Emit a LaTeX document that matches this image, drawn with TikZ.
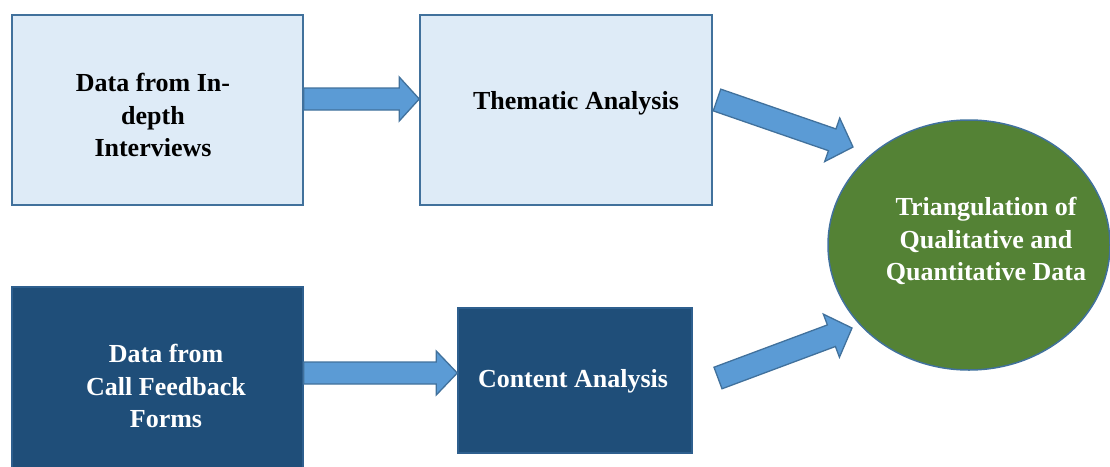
\documentclass[tikz,border=0pt]{standalone}
\usepackage{fontspec}
\setmainfont{Liberation Serif}
\usetikzlibrary{calc,shapes.geometric}

\definecolor{lightfill}{HTML}{DEEBF7}
\definecolor{edgeblue}{HTML}{41719C}
\definecolor{darkfill}{HTML}{1F4E79}
\definecolor{darkedge}{HTML}{2E5F8E}
\definecolor{arrowfill}{HTML}{5B9BD5}
\definecolor{greenfill}{HTML}{548235}

% block arrow from tail #1 to tip #2
% #3 shaft half-width, #4 head half-width, #5 head length
\newcommand{\blockarrow}[5]{%
  \coordinate (#1-hb) at ($(#2)!#5!(#1)$);
  \filldraw[fatarrow]
    ($(#1)!#3!90:(#2)$) -- ($(#1-hb)!#3!-90:(#1)$) -- ($(#1-hb)!#4!-90:(#1)$)
    -- (#2) -- ($(#1-hb)!#4!90:(#1)$) -- ($(#1-hb)!#3!90:(#1)$)
    -- ($(#1)!#3!-90:(#2)$) -- cycle;
}

\tikzset{
  lightbox/.style={draw=edgeblue, fill=lightfill, line width=1.5pt, rectangle},
  darkbox/.style={draw=darkedge, fill=darkfill, line width=1.5pt, rectangle},
  lbl/.style={align=center, font=\fontsize{26}{32.5}\selectfont\bfseries, inner sep=0pt},
  fatarrow/.style={draw=edgeblue, fill=arrowfill, line width=1.3pt, line join=miter},
}

\begin{document}
\begin{tikzpicture}[x=1pt, y=-1pt]
  \useasboundingbox (0,0) rectangle (1110,466);

  % boxes
  \node[lightbox, minimum width=291pt, minimum height=190pt] (interviews) at (157.5,110) {};
  \node[lightbox, minimum width=292pt, minimum height=190pt] (thematic) at (566,110) {};
  \node[darkbox, minimum width=291pt, minimum height=200pt] (forms) at (157.5,387) {};
  \node[darkbox, minimum width=234pt, minimum height=145pt] (content) at (575,380.5) {};
  \node[ellipse, draw=edgeblue, fill=greenfill, line width=1.5pt,
        minimum width=282pt, minimum height=250pt, inner sep=0pt] (triang) at (969,245) {};

  % texts
  \node[lbl] (tinterviews) at (153,115) {Data from In-\\depth\\Interviews};
  \node[lbl] (tthematic) at (576,103) {Thematic Analysis};
  \node[lbl, text=white] (tforms) at (166,386) {Data from\\Call Feedback\\Forms};
  \node[lbl, text=white] (tcontent) at (573,381) {Content Analysis};
  \node[lbl, text=white] (ttriang) at (986,241) {Triangulation of\\Qualitative and\\Quantitative Data};

  % arrow end points
  \coordinate (a1) at ([yshift=11pt]interviews.east);
  \coordinate (a1e) at (thematic.west |- a1);
  \coordinate (a2) at ([yshift=14pt]forms.east);
  \coordinate (a2e) at (content.west |- a2);
  \coordinate (a3) at (717,100);
  \coordinate (a3e) at (853,147);
  \coordinate (a4) at (718,378);
  \coordinate (a4e) at (852,328);

  \blockarrow{a1}{a1e}{11pt}{22pt}{20pt}
  \blockarrow{a2}{a2e}{11pt}{22pt}{21pt}
  \blockarrow{a3}{a3e}{11.5pt}{23pt}{22pt}
  \blockarrow{a4}{a4e}{11.5pt}{23pt}{22pt}
\end{tikzpicture}
\end{document}
